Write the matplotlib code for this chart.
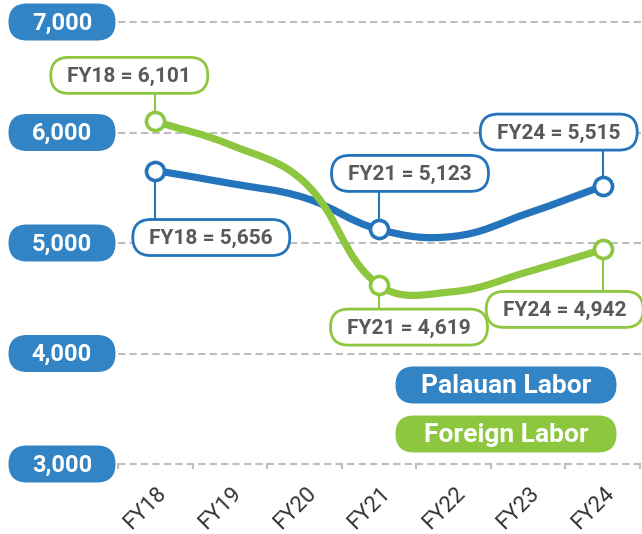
import numpy as np
import matplotlib
matplotlib.use("Agg")
import matplotlib.pyplot as plt
import matplotlib.transforms as mtransforms
from matplotlib.patches import FancyBboxPatch, PathPatch
from matplotlib.path import Path

years = ["FY18", "FY19", "FY20", "FY21", "FY22", "FY23", "FY24"]
palauan = [5656, 5540, 5410, 5123, 5060, 5270, 5515]
foreign = [6101, 5890, 5550, 4619, 4560, 4740, 4942]
y_ticks = [3000, 4000, 5000, 6000, 7000]
series_names = ["Palauan Labor", "Foreign Labor"]

BLUE = "#2474BB"
BLUE_PILL = "#3384C4"
GREEN = "#8DC63F"
TEXT = "#58595B"
GRID = "#BDBDBD"
FONT = ["Roboto", "DejaVu Sans"]

W, H = 642, 534
fig = plt.figure(figsize=(W / 100, H / 100), dpi=100)
fig.patch.set_facecolor("white")

# main axes: category bands, pixel extents 118..640 x 22..464
ax = fig.add_axes([118 / W, (H - 464) / H, (640 - 118) / W, (464 - 22) / H])
ax.set_xlim(-0.5, len(years) - 0.5)
ax.set_ylim(3000, 7000)
for s in ax.spines.values():
    s.set_visible(False)
ax.set_yticks([])
ax.set_xticks(range(len(years)))
ax.set_xticklabels(years, rotation=45, ha="right", va="center",
                   rotation_mode="anchor", fontsize=16, color="#333333",
                   family=FONT)
ax.tick_params(axis="x", length=0, pad=19)
shift = mtransforms.ScaledTranslation(6 / 72, 0, fig.dpi_scale_trans)
for lbl in ax.get_xticklabels():
    lbl.set_transform(lbl.get_transform() + shift)

for v in y_ticks:
    ax.axhline(v, xmin=0, xmax=1.01, color=GRID, lw=1.5, ls=(0, (3.5, 2)),
               clip_on=False, zorder=1)
# small tick marks on the bottom line at band edges
for k in range(len(years) + 1):
    ax.plot([k - 0.5, k - 0.5], [3000, 2960], color=GRID, lw=1.5,
            clip_on=False, zorder=1)

# overlay in pixel coords (y down)
ov = fig.add_axes([0, 0, 1, 1])
ov.set_xlim(0, W)
ov.set_ylim(H, 0)
ov.axis("off")
ov.patch.set_alpha(0)


def to_px(x, y):
    d = ax.transData.transform((x, y))
    return ov.transData.inverted().transform(d)


def smooth_path(pts, smooth=0.4):
    # echarts-like bezier smoothing through the points
    pts = np.asarray(pts, float)
    n = len(pts)
    cps = []
    for i in range(n):
        p = pts[i]
        prev = pts[i - 1] if i > 0 else p
        nxt = pts[i + 1] if i < n - 1 else p
        v = nxt - prev
        d0 = np.hypot(*(p - prev))
        d1 = np.hypot(*(nxt - p))
        r = d1 / (d0 + d1) if d0 + d1 > 0 else 0.5
        cps.append((p - v * smooth * (1 - r), p + v * smooth * r))
    verts = [pts[0]]
    codes = [Path.MOVETO]
    for i in range(n - 1):
        verts += [cps[i][1], cps[i + 1][0], pts[i + 1]]
        codes += [Path.CURVE4] * 3
    return Path(verts, codes)


def pill(cx, cy, w, h, face, edge, lw=0):
    p = FancyBboxPatch((cx - w / 2, cy - h / 2), w, h,
                       boxstyle=f"round,pad=0,rounding_size={h / 2}",
                       fc=face, ec=edge, lw=lw, zorder=6)
    ov.add_patch(p)


# y-axis pills
for v in y_ticks:
    _, py = to_px(0, v)
    pill(62, py, 107, 37, BLUE_PILL, "none")
    ov.text(62, py + 1, f"{v:,}", ha="center", va="center", color="white",
            fontsize=17, fontweight="bold", family=FONT, zorder=7)

# lines
for vals, col in [(palauan, BLUE), (foreign, GREEN)]:
    pts = [to_px(i, v) for i, v in enumerate(vals)]
    ov.add_patch(PathPatch(smooth_path(pts), fc="none", ec=col, lw=5.2,
                           capstyle="round", joinstyle="round", zorder=3))

# callouts: (series, index, colour, box centre offset from point in px)
callouts = [
    (foreign, 0, GREEN, (-26, -46)),
    (palauan, 0, BLUE, (56, 67)),
    (palauan, 3, BLUE, (31, -56)),
    (palauan, 6, BLUE, (-44, -54)),
    (foreign, 3, GREEN, (30, 42)),
    (foreign, 6, GREEN, (-38, 60)),
]
for vals, i, col, (dx, dy) in callouts:
    px, py = to_px(i, vals[i])
    bx, by = px + dx, py + dy
    edge_y = by + 18 if dy < 0 else by - 18
    ov.plot([px, px], [py, edge_y], color=col, lw=1.5, zorder=4)
    pill(bx, by, 157, 36, "white", col, lw=2)
    ov.text(bx, by + 1, f"{years[i]} = {vals[i]:,}", ha="center", va="center",
            color=TEXT, fontsize=15, fontweight="bold", family=FONT, zorder=7)

for vals, col in [(palauan, BLUE), (foreign, GREEN)]:
    for i in (0, 3, 6):
        px, py = to_px(i, vals[i])
        ov.plot(px, py, "o", ms=13, mfc="white", mec=col, mew=2.6, zorder=5)

# legend pills
for (name, col), cy in zip([(series_names[0], BLUE_PILL), (series_names[1], GREEN)],
                           [385, 434]):
    pill(506, cy, 221, 37, col, "none")
    ov.text(506, cy + 1, name, ha="center", va="center", color="white",
            fontsize=19, fontweight="bold", family=FONT, zorder=7)

fig.savefig("out.png", dpi=100)
